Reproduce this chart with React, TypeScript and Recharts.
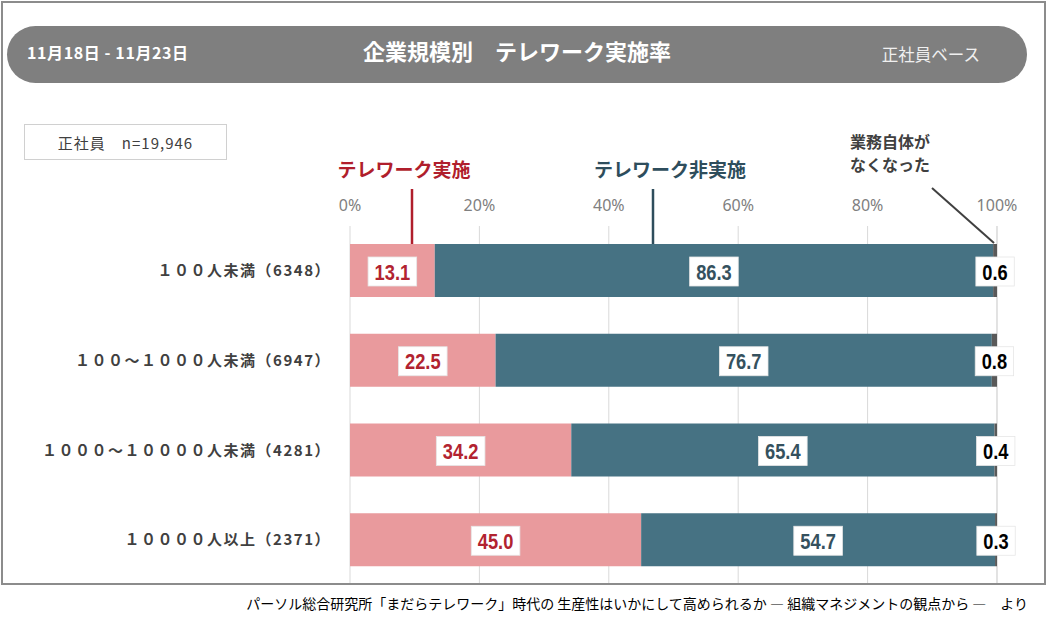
import React from 'react';
import { BarChart, Bar, XAxis, YAxis, CartesianGrid, LabelList } from 'recharts';

const categories = [
  '１００人未満（6348）',
  '１００～１０００人未満（6947）',
  '１０００～１００００人未満（4281）',
  '１００００人以上（2371）',
];
const implemented = [13.1, 22.5, 34.2, 45.0];
const notImplemented = [86.3, 76.7, 65.4, 54.7];
const noWork = [0.6, 0.8, 0.4, 0.3];
const xTicks = [0, 20, 40, 60, 80, 100];

const data = categories.map((name, i) => ({
  name,
  implemented: implemented[i],
  notImplemented: notImplemented[i],
  noWork: noWork[i],
}));

const JP = "'Noto Sans CJK JP', 'Noto Sans', sans-serif";
const NUM = "'Liberation Sans', sans-serif";

// condensed look: squeeze the text to a fixed length
const textWidth = (s: string) =>
  s.split('').reduce((w, c) => w + (c === '.' ? 5 : 10.2), 0);

const makeValueLabel = (color: string) => (props: any) => {
  const { x, y, width, height, value } = props;
  const text = Number(value).toFixed(1);
  const tw = textWidth(text);
  const w = tw + 13;
  const h = 29;
  const cx = Number(x) + Number(width) / 2;
  const cy = Number(y) + Number(height) / 2;
  return (
    <g>
      <rect x={cx - w / 2} y={cy - h / 2 + 1} width={w} height={h} fill="#ffffff" stroke="#e6e6e6" strokeWidth={0.8} />
      <text
        x={cx}
        y={cy + 9}
        textAnchor="middle"
        fill={color}
        fontSize={22}
        fontWeight="bold"
        fontFamily={NUM}
        textLength={tw}
        lengthAdjust="spacingAndGlyphs"
      >
        {text}
      </text>
    </g>
  );
};

const App: React.FC = () => {
  return (
    <div style={{ position: 'absolute', left: 0, top: 0, width: 1046, height: 622, background: '#fff', fontFamily: JP }}>
      <BarChart
        width={1046}
        height={622}
        data={data}
        layout="vertical"
        margin={{ top: 190, right: 49, left: 0, bottom: 37 }}
        barSize={53}
      >
        <CartesianGrid horizontal={false} stroke="#d9d9d9" />
        <XAxis
          type="number"
          orientation="top"
          domain={[0, 100]}
          ticks={xTicks}
          tickFormatter={(v) => `${v}%`}
          height={36}
          axisLine={false}
          tickLine={false}
          tickSize={0}
          tickMargin={15}
          tick={{ fill: '#808080', fontSize: 16, fontFamily: "'Noto Sans', sans-serif" }}
        />
        <YAxis
          type="category"
          dataKey="name"
          width={350}
          axisLine={false}
          tickLine={false}
          tickSize={0}
          tickMargin={19}
          tick={{ fill: '#404040', fontSize: 15, fontWeight: 'bold', fontFamily: JP, letterSpacing: 1.5 }}
        />
        <Bar dataKey="implemented" stackId="a" fill="#e99a9d" isAnimationActive={false}>
          <LabelList dataKey="implemented" content={makeValueLabel('#b22330')} />
        </Bar>
        <Bar dataKey="notImplemented" stackId="a" fill="#467283" isAnimationActive={false}>
          <LabelList dataKey="notImplemented" content={makeValueLabel('#35515e')} />
        </Bar>
        <Bar dataKey="noWork" stackId="a" fill="#595959" isAnimationActive={false}>
          <LabelList dataKey="noWork" content={makeValueLabel('#000000')} />
        </Bar>
      </BarChart>

      {/* annotations */}
      <svg width={1046} height={622} style={{ position: 'absolute', left: 0, top: 0, pointerEvents: 'none' }}>
        <text x={404} y={177} textAnchor="middle" fill="#b01e2c" fontSize={19} fontWeight="bold" fontFamily={JP}>
          テレワーク実施
        </text>
        <line x1={412} y1={189} x2={412} y2={244} stroke="#b01e2c" strokeWidth={2.5} />
        <text x={670} y={177} textAnchor="middle" fill="#2e4d5c" fontSize={19} fontWeight="bold" fontFamily={JP}>
          テレワーク非実施
        </text>
        <line x1={653} y1={189} x2={653} y2={244} stroke="#2e4d5c" strokeWidth={2.5} />
        <text x={890} y={148} textAnchor="middle" fill="#404040" fontSize={16} fontWeight="bold" fontFamily={JP}>
          業務自体が
        </text>
        <text x={890} y={171} textAnchor="middle" fill="#404040" fontSize={16} fontWeight="bold" fontFamily={JP}>
          なくなった
        </text>
        <line x1={932} y1={188} x2={994} y2={243} stroke="#404040" strokeWidth={2} />
      </svg>

      {/* header pill */}
      <div
        style={{
          position: 'absolute', left: 7, top: 26, width: 1020, height: 57,
          borderRadius: 29, background: '#7f7f7f', color: '#fff',
        }}
      >
        <div style={{ position: 'absolute', left: 20, top: 14, fontSize: 16, fontWeight: 'bold', letterSpacing: 0.6, lineHeight: '24px' }}>
          11月18日 - 11月23日
        </div>
        <div style={{ position: 'absolute', left: 0, width: 1020, top: 8, textAlign: 'center', fontSize: 22, fontWeight: 'bold', lineHeight: '32px', paddingLeft: 0 }}>
          企業規模別　テレワーク実施率
        </div>
        <div style={{ position: 'absolute', right: 47, top: 16, fontSize: 16.5, color: '#f0f0f0', lineHeight: '24px' }}>
          正社員ベース
        </div>
      </div>

      {/* sample box */}
      <div
        style={{
          position: 'absolute', left: 24, top: 124, width: 201, height: 34,
          border: '1px solid #d0d0d0', color: '#404040', fontSize: 15, letterSpacing: 1,
          display: 'flex', alignItems: 'center', justifyContent: 'center',
        }}
      >
        正社員　n=19,946
      </div>

      {/* bottom area + source */}
      <div style={{ position: 'absolute', left: 0, top: 584, width: 1046, height: 38, background: '#fff' }}>
        <div style={{ position: 'absolute', right: 18, top: 9, fontSize: 14, color: '#000', whiteSpace: 'nowrap' }}>
          パーソル総合研究所「まだらテレワーク」時代の 生産性はいかにして高められるか ― 組織マネジメントの観点から ―　より
        </div>
      </div>

      {/* outer frame */}
      <div
        style={{
          position: 'absolute', left: 1, top: 1, width: 1041, height: 580,
          border: '2px solid #8c8c8c', pointerEvents: 'none',
        }}
      />
    </div>
  );
};

export default App;
